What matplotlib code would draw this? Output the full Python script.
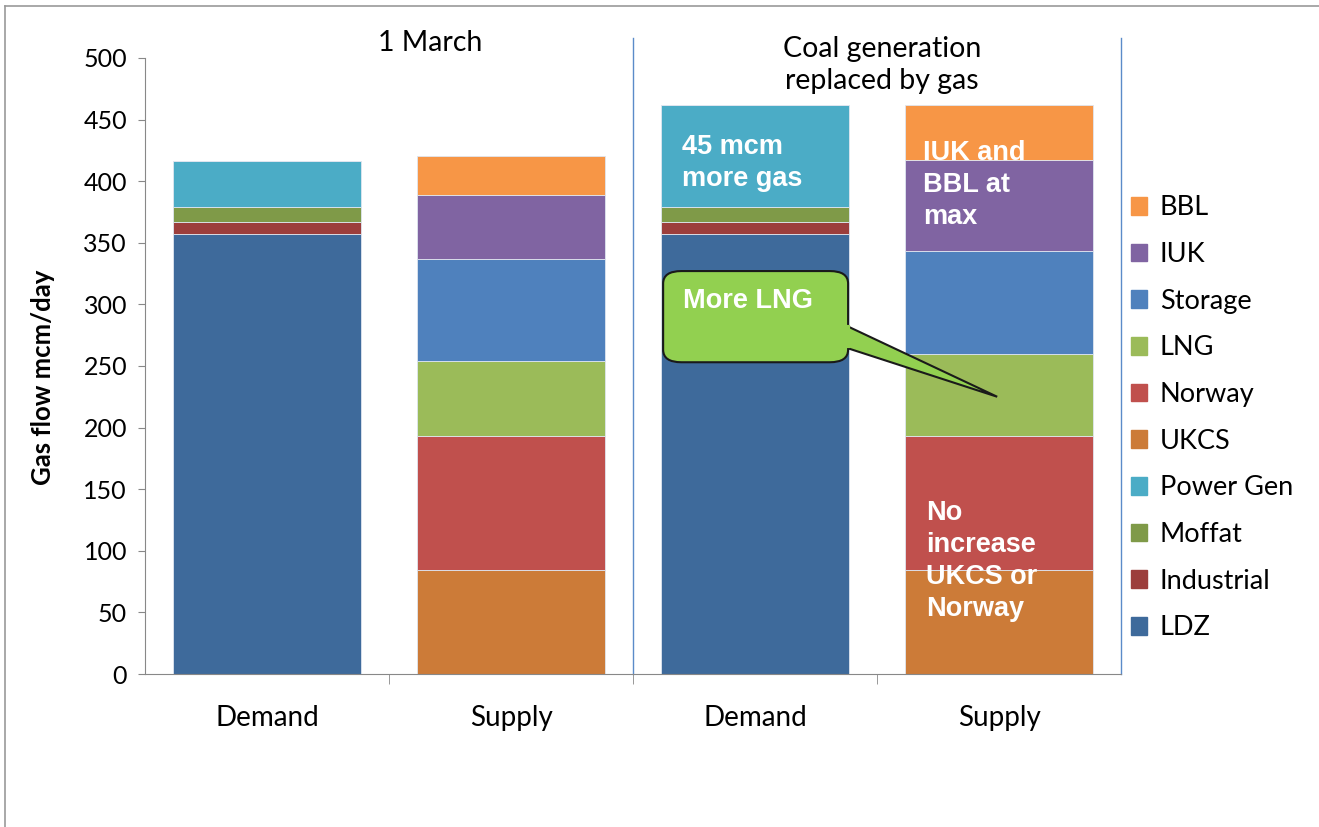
import matplotlib
matplotlib.use("Agg")
import matplotlib.pyplot as plt
from matplotlib.patches import FancyBboxPatch, Polygon, Patch
from matplotlib.lines import Line2D

plt.rcParams['font.family'] = ['Lato', 'DejaVu Sans']

categories = ["Demand", "Supply", "Demand", "Supply"]

# demand side (bars 0 and 2)
ldz = [357, 0, 357, 0]
industrial = [10, 0, 10, 0]
moffat = [12, 0, 12, 0]
power_gen = [37, 0, 83, 0]

# supply side (bars 1 and 3)
ukcs = [0, 84, 0, 84]
norway = [0, 109, 0, 109]
lng = [0, 61, 0, 67]
storage = [0, 83, 0, 83]
iuk = [0, 52, 0, 74]
bbl = [0, 31, 0, 45]

series = [
    ("LDZ", ldz, "#3E6A9B"),
    ("Industrial", industrial, "#9C3E3C"),
    ("Moffat", moffat, "#7F9A48"),
    ("Power Gen", power_gen, "#4BACC6"),
    ("UKCS", ukcs, "#CC7B38"),
    ("Norway", norway, "#C0504D"),
    ("LNG", lng, "#9BBB59"),
    ("Storage", storage, "#4F81BD"),
    ("IUK", iuk, "#8064A2"),
    ("BBL", bbl, "#F79646"),
]

fig = plt.figure(figsize=(13.19, 8.27), dpi=100)
ax = fig.add_axes([0.110, 0.185, 0.740, 0.745])

x = list(range(len(categories)))
bottom = [0] * len(categories)
for name, vals, col in series:
    ax.bar(x, vals, width=0.77, bottom=bottom, color=col, edgecolor="#dfe6f0",
           linewidth=0.6, label=name)
    bottom = [b + v for b, v in zip(bottom, vals)]

ax.set_xlim(-0.5, 3.5)
ax.set_ylim(0, 500)
ax.set_yticks(range(0, 501, 50))
ax.tick_params(axis="y", labelsize=18, length=5, color="#888888", pad=8)
ax.set_xticks(x)
ax.set_xticklabels(categories)
ax.tick_params(axis="x", which="major", labelsize=20, length=0, pad=22)
ax.set_xticks([0.5, 1.5, 2.5], minor=True)
ax.tick_params(axis="x", which="minor", length=7, color="#888888")
for s in ["top", "right"]:
    ax.spines[s].set_visible(False)
for s in ["left", "bottom"]:
    ax.spines[s].set_color("#888888")
ax.set_ylabel("Gas flow mcm/day", fontsize=18.5, fontweight="bold")
ax.yaxis.set_label_coords(-0.092, 0.482)

# separator lines
for xs in [1.5, 3.5]:
    ax.plot([xs, xs], [0, 516], color="#5B8BC9", linewidth=1.0, clip_on=False)

ax.text(0.668, 512, "1 March", ha="center", va="center", fontsize=20.5)
ax.text(2.52, 494, "Coal generation\nreplaced by gas", ha="center", va="center",
        fontsize=20.5, linespacing=1.3)

bold = dict(color="white", fontweight="bold", fontsize=19.5,
            family=["Liberation Sans", "DejaVu Sans"], ha="left", va="center",
            linespacing=1.3)
ax.text(1.70, 415, "45 mcm\nmore gas", **bold)
ax.text(2.69, 397, "IUK and\nBBL at\nmax", **bold)
ax.text(2.70, 92, "No\nincrease\nUKCS or\nNorway", **bold)

# callout "More LNG"
tail = Polygon([(2.37, 283), (2.992, 225), (2.37, 265)], closed=True,
               facecolor="#92D050", edgecolor="#1a1a1a", linewidth=1.5, zorder=5)
ax.add_patch(tail)
box = FancyBboxPatch((1.623, 253), 0.758, 74,
                     boxstyle="round,pad=0,rounding_size=0.075",
                     mutation_aspect=135, facecolor="#92D050",
                     edgecolor="#1a1a1a", linewidth=1.5, zorder=6)
ax.add_patch(box)
ax.plot([2.381, 2.381], [282, 266], color="#92D050", linewidth=3, zorder=7)
ax.text(1.705, 303, "More LNG", zorder=8, **bold)

# legend
handles = [Patch(facecolor=col, edgecolor=col, label=name)
           for name, vals, col in reversed(series)]
fig.legend(handles=handles, loc="center left", bbox_to_anchor=(0.849, 0.4946),
           frameon=False, fontsize=19.5, handlelength=0.62, handleheight=0.62,
           handletextpad=0.45, labelspacing=0.8, borderaxespad=0, borderpad=0.4)

# outer frame
fig.add_artist(Line2D([0.004, 1.0], [0.993, 0.993], color="#999999", linewidth=1.2))
fig.add_artist(Line2D([0.004, 0.004], [0.0, 0.993], color="#999999", linewidth=1.2))

fig.savefig("out.png", dpi=100)
